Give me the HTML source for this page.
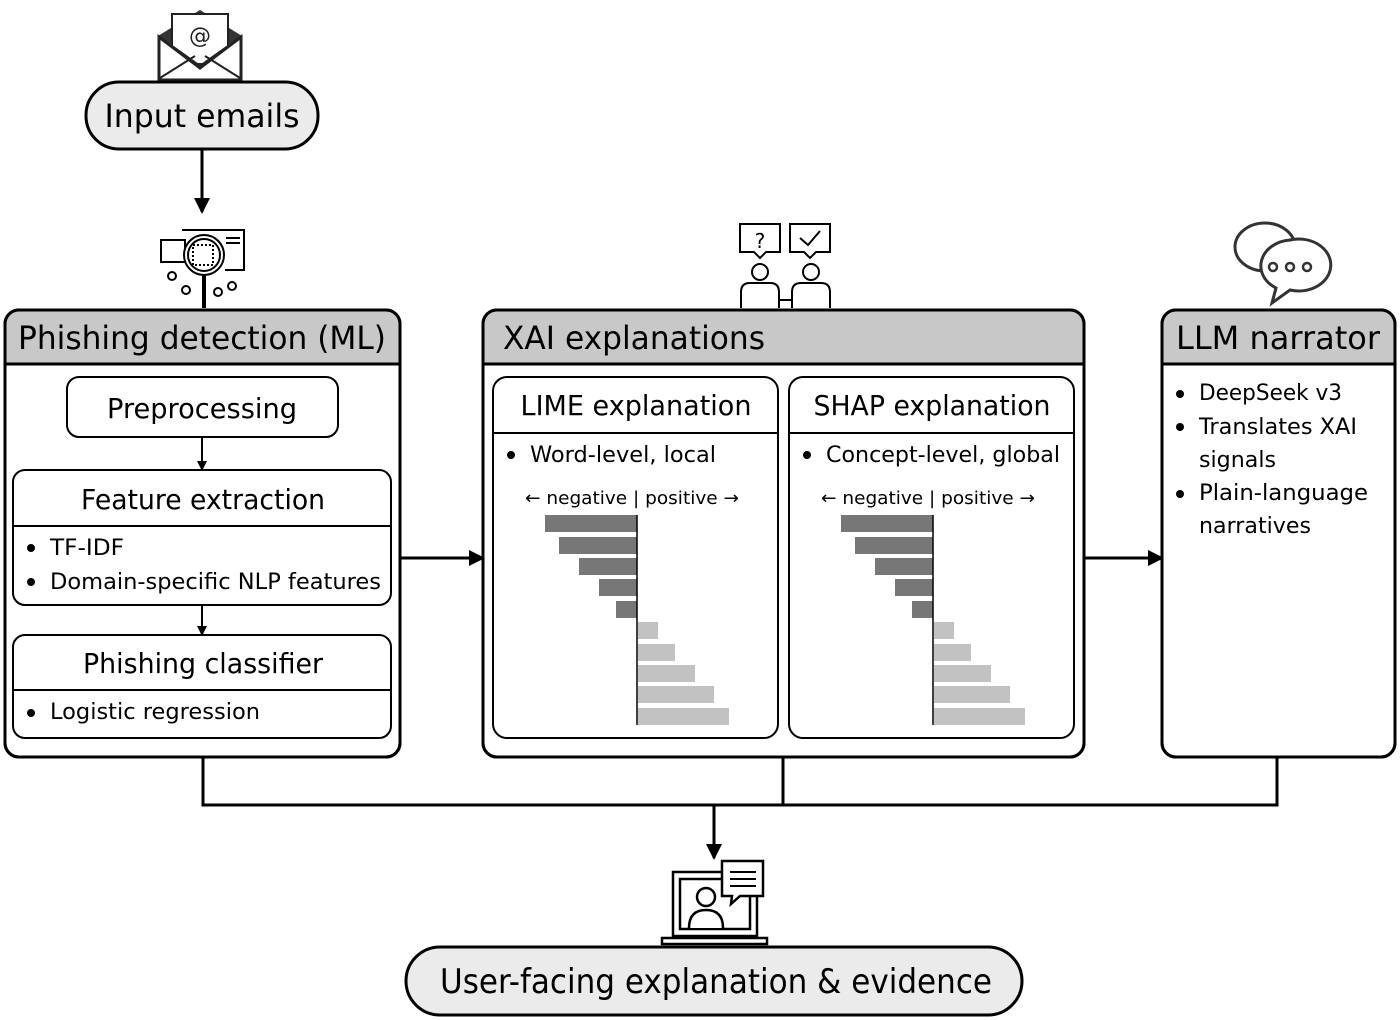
<!DOCTYPE html>
<html><head><meta charset="utf-8"><style>
html,body{margin:0;padding:0;background:#fff;}
svg{display:block;font-family:"DejaVu Sans","Liberation Sans",sans-serif;}
</style></head><body>
<svg width="1400" height="1020" viewBox="0 0 1400 1020" xmlns="http://www.w3.org/2000/svg">
<defs>
<marker id="ah" markerWidth="10" markerHeight="10" refX="8" refY="5" orient="auto" markerUnits="userSpaceOnUse"><path d="M0,0 L10,5 L0,10 z" fill="#000"/></marker>
<marker id="ahL" markerWidth="16" markerHeight="16" refX="14" refY="8" orient="auto" markerUnits="userSpaceOnUse"><path d="M0,0 L16,8 L0,16 z" fill="#000"/></marker>
</defs>
<!-- email icon -->
<path d="M158,36 L200,10 L242,36 L242,50 L158,50 Z" fill="#333"/>
<rect x="172" y="14" width="56" height="50" fill="#fff" stroke="#222" stroke-width="2"/>
<path d="M159,37 L200,68 L241,37 V80 H159 Z" fill="#fff" stroke="#222" stroke-width="3"/>
<path d="M160,78 L195,56 M240,78 L205,56" stroke="#222" stroke-width="2" fill="none"/>
<path d="M172,46 L200,66 L228,46" stroke="#222" stroke-width="2" fill="none"/>
<text x="200" y="43" font-size="22" text-anchor="middle" fill="#222">@</text>
<rect x="86" y="82" width="232" height="67" rx="33" fill="#ebebeb" stroke="#000" stroke-width="3"/>
<text x="202" y="127" font-size="32" text-anchor="middle" textLength="195" lengthAdjust="spacingAndGlyphs">Input emails</text>
<line x1="202" y1="149" x2="202" y2="212" stroke="#000" stroke-width="3" marker-end="url(#ahL)"/>
<!-- magnifier icon -->
<g stroke="#000" stroke-width="2" fill="none">
<path d="M182,230 H244 V270 H225"/><path d="M226,238 H240 M226,243 H240"/>
<rect x="161" y="240" width="24" height="22" fill="#fff"/>
<circle cx="204" cy="255" r="20" fill="#fff"/><circle cx="204" cy="255" r="16"/>
<rect x="193" y="245" width="20" height="20" stroke-dasharray="2,2"/>
<line x1="204" y1="275" x2="204" y2="308" stroke-width="4"/>
<circle cx="172" cy="276" r="4"/><circle cx="186" cy="290" r="4"/><circle cx="218" cy="292" r="4"/><circle cx="232" cy="286" r="4"/>
</g>
<!-- people icon -->
<g stroke="#000" stroke-width="2" fill="#fff">
<path d="M740,224 H780 V252 H766 L760,258 L754,252 H740 Z"/>
<path d="M790,224 H830 V252 H816 L810,258 L804,252 H790 Z"/>
<path d="M800,238 L808,245 L820,231" fill="none"/>
<circle cx="760" cy="272" r="8"/><circle cx="811" cy="272" r="8"/>
<path d="M741,308 V292 Q741,283 750,283 H770 Q779,283 779,292 V308"/>
<path d="M792,308 V292 Q792,283 801,283 H821 Q830,283 830,292 V308"/>
<line x1="779" y1="300" x2="792" y2="300"/>
</g>
<text x="760" y="248" font-size="20" text-anchor="middle">?</text>
<!-- chat icon -->
<g stroke="#333" stroke-width="3" fill="#fff">
<ellipse cx="1265" cy="247" rx="30" ry="24"/>
<path d="M1290,240 a32,26 0 1 1 0,50 L1272,303 L1276,288 a32,26 0 0 1 14,-48 Z"/>
</g>
<circle cx="1273" cy="267" r="4" fill="none" stroke="#333" stroke-width="2.5"/><circle cx="1290" cy="267" r="4" fill="none" stroke="#333" stroke-width="2.5"/><circle cx="1307" cy="267" r="4" fill="none" stroke="#333" stroke-width="2.5"/>

<!-- Left box -->
<rect x="5" y="310" width="395" height="447" rx="14" fill="#fff" stroke="#000" stroke-width="3"/>
<path d="M6.5,364 V324 Q6.5,311.5 19,311.5 H386 Q398.5,311.5 398.5,324 V364 Z" fill="#c8c8c8"/>
<line x1="5" y1="364" x2="400" y2="364" stroke="#000" stroke-width="3"/>
<rect x="5" y="310" width="395" height="447" rx="14" fill="none" stroke="#000" stroke-width="3"/>
<text x="18" y="349" font-size="32" textLength="368" lengthAdjust="spacingAndGlyphs">Phishing detection (ML)</text>
<rect x="67" y="377" width="271" height="60" rx="12" fill="#fff" stroke="#000" stroke-width="2"/>
<text x="202" y="418" font-size="28" text-anchor="middle" textLength="190" lengthAdjust="spacingAndGlyphs">Preprocessing</text>
<line x1="202" y1="437" x2="202" y2="469" stroke="#000" stroke-width="2" marker-end="url(#ah)"/>
<rect x="13" y="470" width="378" height="135" rx="12" fill="#fff" stroke="#000" stroke-width="2"/>
<line x1="13" y1="526" x2="391" y2="526" stroke="#000" stroke-width="2"/>
<text x="203" y="509" font-size="28" text-anchor="middle" textLength="244" lengthAdjust="spacingAndGlyphs">Feature extraction</text>
<circle cx="31" cy="548" r="4"/><text x="50" y="555" font-size="22" textLength="74" lengthAdjust="spacingAndGlyphs">TF-IDF</text>
<circle cx="31" cy="582" r="4"/><text x="50" y="589" font-size="22" textLength="331" lengthAdjust="spacingAndGlyphs">Domain-specific NLP features</text>
<line x1="202" y1="605" x2="202" y2="634" stroke="#000" stroke-width="2" marker-end="url(#ah)"/>
<rect x="13" y="635" width="378" height="103" rx="12" fill="#fff" stroke="#000" stroke-width="2"/>
<line x1="13" y1="690" x2="391" y2="690" stroke="#000" stroke-width="2"/>
<text x="203" y="673" font-size="28" text-anchor="middle" textLength="240" lengthAdjust="spacingAndGlyphs">Phishing classifier</text>
<circle cx="31" cy="713" r="4"/><text x="50" y="719" font-size="22" textLength="210" lengthAdjust="spacingAndGlyphs">Logistic regression</text>
<line x1="400" y1="558" x2="483" y2="558" stroke="#000" stroke-width="3" marker-end="url(#ahL)"/>

<!-- XAI box -->
<rect x="483" y="310" width="601" height="447" rx="14" fill="#fff" stroke="#000" stroke-width="3"/>
<path d="M484.5,364 V324 Q484.5,311.5 497,311.5 H1070 Q1082.5,311.5 1082.5,324 V364 Z" fill="#c8c8c8"/>
<line x1="483" y1="364" x2="1084" y2="364" stroke="#000" stroke-width="3"/>
<rect x="483" y="310" width="601" height="447" rx="14" fill="none" stroke="#000" stroke-width="3"/>
<text x="503" y="349" font-size="32" textLength="262" lengthAdjust="spacingAndGlyphs">XAI explanations</text>

<g>
<rect x="493" y="377" width="285" height="361" rx="14" fill="#fff" stroke="#000" stroke-width="2"/>
<line x1="493" y1="433" x2="778" y2="433" stroke="#000" stroke-width="2"/>
<text x="636" y="415" font-size="28" text-anchor="middle" textLength="231" lengthAdjust="spacingAndGlyphs">LIME explanation</text>
<circle cx="511" cy="455" r="4"/><text x="530" y="462" font-size="22" textLength="186" lengthAdjust="spacingAndGlyphs">Word-level, local</text>
<text x="632" y="504" font-size="18" text-anchor="middle" textLength="214" lengthAdjust="spacingAndGlyphs">← negative | positive →</text>
<g fill="#777">
<rect x="545" y="515" width="92" height="17"/><rect x="559" y="537" width="78" height="17"/><rect x="579" y="558" width="58" height="17"/><rect x="599" y="579" width="38" height="17"/><rect x="616" y="601" width="21" height="17"/>
</g>
<g fill="#c2c2c2">
<rect x="638" y="622" width="20" height="17"/><rect x="638" y="644" width="37" height="17"/><rect x="638" y="665" width="57" height="17"/><rect x="638" y="686" width="76" height="17"/><rect x="638" y="708" width="91" height="17"/>
</g>
<line x1="637" y1="515" x2="637" y2="725" stroke="#000" stroke-width="1.5"/>
</g>
<g transform="translate(296,0)">
<rect x="493" y="377" width="285" height="361" rx="14" fill="#fff" stroke="#000" stroke-width="2"/>
<line x1="493" y1="433" x2="778" y2="433" stroke="#000" stroke-width="2"/>
<text x="636" y="415" font-size="28" text-anchor="middle" textLength="237" lengthAdjust="spacingAndGlyphs">SHAP explanation</text>
<circle cx="511" cy="455" r="4"/><text x="530" y="462" font-size="22" textLength="234" lengthAdjust="spacingAndGlyphs">Concept-level, global</text>
<text x="632" y="504" font-size="18" text-anchor="middle" textLength="214" lengthAdjust="spacingAndGlyphs">← negative | positive →</text>
<g fill="#777">
<rect x="545" y="515" width="92" height="17"/><rect x="559" y="537" width="78" height="17"/><rect x="579" y="558" width="58" height="17"/><rect x="599" y="579" width="38" height="17"/><rect x="616" y="601" width="21" height="17"/>
</g>
<g fill="#c2c2c2">
<rect x="638" y="622" width="20" height="17"/><rect x="638" y="644" width="37" height="17"/><rect x="638" y="665" width="57" height="17"/><rect x="638" y="686" width="76" height="17"/><rect x="638" y="708" width="91" height="17"/>
</g>
<line x1="637" y1="515" x2="637" y2="725" stroke="#000" stroke-width="1.5"/>
</g>
<line x1="1084" y1="558" x2="1162" y2="558" stroke="#000" stroke-width="3" marker-end="url(#ahL)"/>

<!-- LLM -->
<rect x="1162" y="310" width="233" height="447" rx="14" fill="#fff" stroke="#000" stroke-width="3"/>
<path d="M1163.5,364 V324 Q1163.5,311.5 1176,311.5 H1381 Q1393.5,311.5 1393.5,324 V364 Z" fill="#c8c8c8"/>
<line x1="1162" y1="364" x2="1395" y2="364" stroke="#000" stroke-width="3"/>
<rect x="1162" y="310" width="233" height="447" rx="14" fill="none" stroke="#000" stroke-width="3"/>
<text x="1176" y="349" font-size="32" textLength="204" lengthAdjust="spacingAndGlyphs">LLM narrator</text>
<circle cx="1180" cy="394" r="4"/><text x="1199" y="400" font-size="22" textLength="143" lengthAdjust="spacingAndGlyphs">DeepSeek v3</text>
<circle cx="1180" cy="427" r="4"/><text x="1199" y="434" font-size="22" textLength="158" lengthAdjust="spacingAndGlyphs">Translates XAI</text>
<text x="1199" y="467" font-size="22" textLength="77" lengthAdjust="spacingAndGlyphs">signals</text>
<circle cx="1180" cy="494" r="4"/><text x="1199" y="500" font-size="22" textLength="169" lengthAdjust="spacingAndGlyphs">Plain-language</text>
<text x="1199" y="533" font-size="22" textLength="112" lengthAdjust="spacingAndGlyphs">narratives</text>

<!-- bottom connectors -->
<g stroke="#000" stroke-width="3" fill="none">
<path d="M203,757 V805 H1277 V757"/><line x1="783" y1="757" x2="783" y2="805"/>
</g>
<line x1="714" y1="805" x2="714" y2="858" stroke="#000" stroke-width="3" marker-end="url(#ahL)"/>
<!-- user icon -->
<g stroke="#000" stroke-width="2.5" fill="#fff">
<rect x="673" y="872" width="84" height="64"/><rect x="680" y="879" width="70" height="50"/>
<rect x="662" y="938" width="105" height="6" fill="#fff"/>
<circle cx="706" cy="897" r="9"/><path d="M689,928 Q689,910 706,910 Q723,910 723,928"/>
<path d="M722,861 H763 V896 H740 L731,904 L732,896 H722 Z"/>
<path d="M730,872 H756 M730,879 H756 M730,886 H756" stroke-width="2"/>
</g>
<rect x="406" y="947" width="616" height="68" rx="34" fill="#ebebeb" stroke="#000" stroke-width="3"/>
<text x="716" y="993" font-size="34" text-anchor="middle" textLength="552" lengthAdjust="spacingAndGlyphs">User-facing explanation &amp; evidence</text>
</svg>
</body></html>
